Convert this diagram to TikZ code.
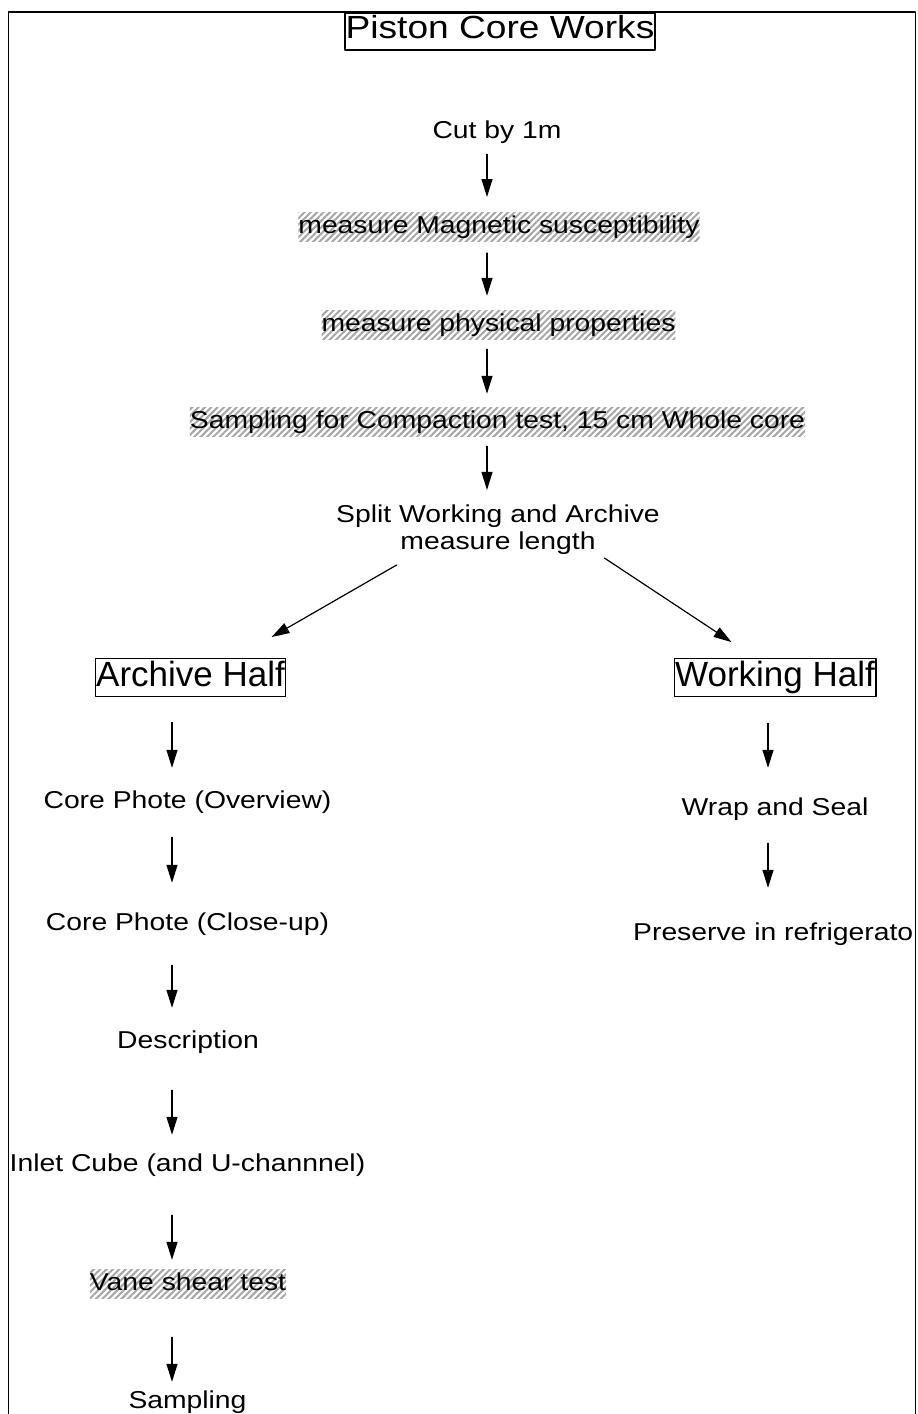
\documentclass[tikz,border=0pt]{standalone}
\usepackage{fontspec}
\newfontfamily\bodyfont{Liberation Sans}[FakeStretch=1.16]
\newfontfamily\headfont{Liberation Sans}
\usetikzlibrary{arrows.meta,patterns.meta}
\tikzset{
	txt/.style={inner sep=0pt, text height=18pt, text depth=5pt, anchor=base,
		font=\bodyfont\fontsize{24.4}{27}\selectfont},
	hatchtxt/.style={txt, inner ysep=3pt,
		pattern={Lines[angle=45,distance=4.5pt,line width=2pt]}, pattern color=gray!70},
	headbox/.style={draw, line width=1.3pt, inner xsep=1pt, inner ysep=0pt,
		text height=28pt, text depth=10pt, anchor=base, font=\headfont\fontsize{35}{38}\selectfont},
	flow/.style={line width=1.2pt, -{Triangle[length=18pt,width=11pt]},
		shorten <=11pt, shorten >=14pt}
}
\begin{document}
\begin{tikzpicture}[line cap=round,line join=round,x=1pt,y=-1pt]
			\useasboundingbox (0,0) rectangle (918,1414);
			% Frame
			\draw[line width=1.5pt] (8.5,1414) -- (8.5,12) -- (915.5,12) -- (915.5,1414);
			% Arrow columns
			\coordinate (colM) at (487,0);
			\coordinate (colA) at (172,0);
			\coordinate (colW) at (768,0);
			% Title
			\node[headbox, inner xsep=0.5pt, text height=25pt, text depth=12pt,
				font=\bodyfont\fontsize{32}{36}\selectfont] (title) at (500,38) {Piston Core Works};
			% Main column
			\node[txt] (cut) at (497,138) {Cut by 1m};
			\node[hatchtxt] (mag) at (499,233) {measure Magnetic susceptibility};
			\node[hatchtxt] (phys) at (498.5,331) {measure physical properties};
			\node[hatchtxt] (comp) at (497.5,428) {Sampling for Compaction test, 15 cm Whole core};
			\node[txt, anchor=center, align=center, text height=, text depth=] (split) at (498,530)
				{Split Working and Archive\\measure length};
			% Two halves
			\node[headbox] (arch) at (190.5,686.7) {Archive Half};
			\node[headbox] (work) at (775,686.7) {Working Half};
			% Archive half steps
			\node[txt] (ov) at (187.5,808) {Core Phote (Overview)};
			\node[txt] (cu) at (187.5,930) {Core Phote (Close-up)};
			\node[txt] (desc) at (188,1048) {Description};
			\node[txt] (inlet) at (187.5,1171) {Inlet Cube (and U-channnel)};
			\node[hatchtxt] (vane) at (188,1290) {Vane shear test};
			\node[txt] (samp) at (187.5,1408) {Sampling};
			% Working half steps
			\node[txt] (wrap) at (775,815) {Wrap and Seal};
			\node[txt, anchor=base west] (pres) at (633,940) {Preserve in refrigerato};
			% Arrows, main column
			\draw[flow] (cut.south -| colM) -- (mag.north -| colM);
			\draw[flow] (mag.south -| colM) -- (phys.north -| colM);
			\draw[flow, shorten <=10pt, shorten >=13pt] (phys.south -| colM) -- (comp.north -| colM);
			\draw[flow, shorten <=10pt, shorten >=15pt] (comp.south -| colM) -- (split.north -| colM);
			\draw[flow, shorten <=0pt, shorten >=0pt] ([shift={(60.5,10)}]split.south west) -- ([shift={(-15,-21)}]arch.north east);
			\draw[flow, shorten <=0pt, shorten >=0pt] ([shift={(-55.5,3)}]split.south east) -- ([shift={(58,-16)}]work.north west);
			% Arrows, archive half
			\draw[flow, shorten <=25pt, shorten >=22pt] (arch.south -| colA) -- (ov.north -| colA);
			\draw[flow, shorten <=24pt, shorten >=29pt] (ov.south -| colA) -- (cu.north -| colA);
			\draw[flow, shorten <=30pt, shorten >=22pt] (cu.south -| colA) -- (desc.north -| colA);
			\draw[flow, shorten <=37pt, shorten >=18pt] (desc.south -| colA) -- (inlet.north -| colA);
			\draw[flow, shorten <=39pt, shorten >=9pt] (inlet.south -| colA) -- (vane.north -| colA);
			\draw[flow, shorten <=39pt, shorten >=8pt] (vane.south -| colA) -- (samp.north -| colA);
			% Arrows, working half
			\draw[flow, shorten <=26pt, shorten >=29pt] (work.south -| colW) -- (wrap.north -| colW);
			\draw[flow, shorten <=23pt, shorten >=34pt] (wrap.south -| colW) -- (pres.north -| colW);
	\end{tikzpicture}
\end{document}
